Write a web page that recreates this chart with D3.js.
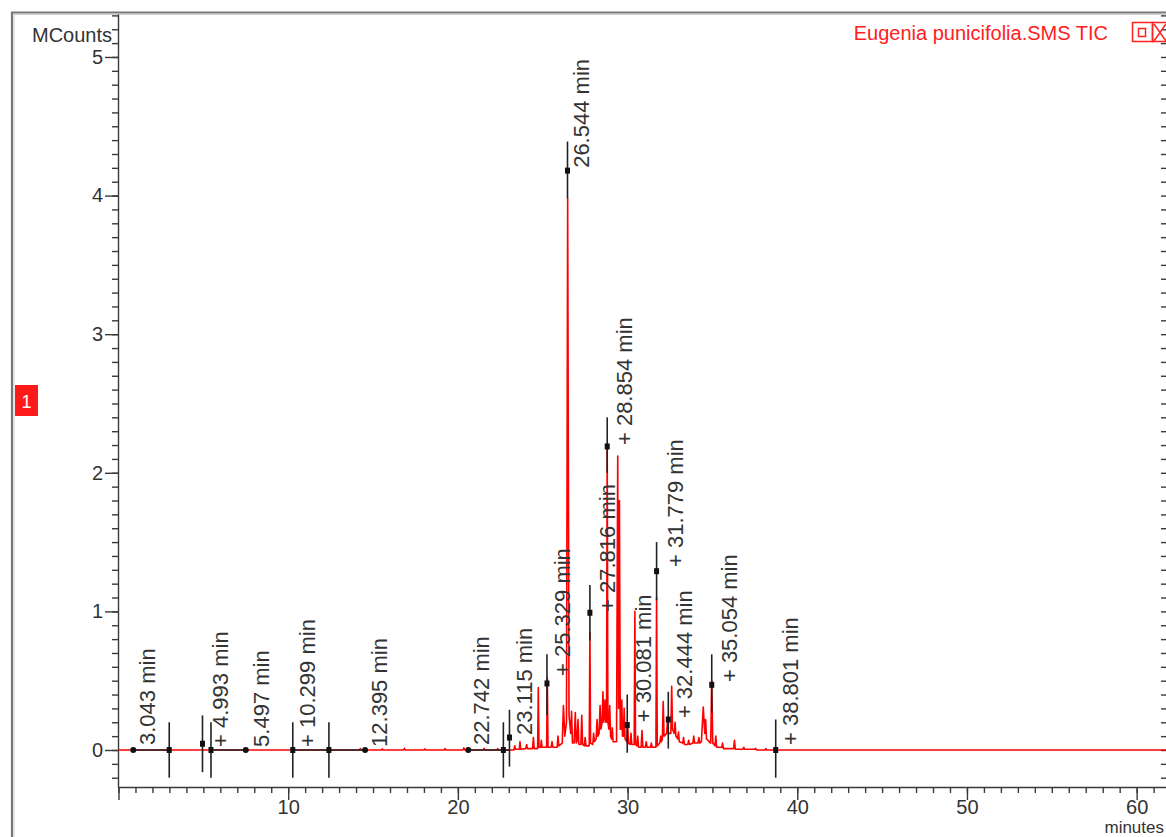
<!DOCTYPE html>
<html lang="en">
<head>
<meta charset="UTF-8">
<title>Eugenia punicifolia.SMS TIC</title>
<script src="https://d3js.org/d3.v7.min.js"></script>
<style>
  html, body { margin: 0; padding: 0; background: #fff; }
  body { font-family: Arial, "Liberation Sans", sans-serif; }
  .axis path, .axis line { stroke: #3a3a3a; stroke-width: 1.4; }
  .axis text { font-size: 20px; fill: #333; font-family: Arial, "Liberation Sans", sans-serif; }
  .peak-label { font-size: 22px; fill: #333; }
</style>
</head>
<body>
<script>
// TIC trace, [minutes, MCounts]
const trace = [
  [0, 0],
  [14.2, 0], [14.25, 0.01], [14.3, 0],
  [15.5, 0], [15.55, 0.008], [15.6, 0],
  [16.8, 0], [16.85, 0.012], [16.9, 0],
  [18.0, 0], [18.05, 0.008], [18.1, 0],
  [19.2, 0], [19.25, 0.01], [19.3, 0],
  [20.3, 0], [20.35, 0.015], [20.4, 0],
  [21.5, 0], [21.55, 0.012], [21.6, 0],
  [22.3, 0], [22.35, 0.01], [22.4, 0],
  [23.3, 0], [23.35, 0.03], [23.4, 0.005],
  [23.62, 0.005], [23.66, 0.06], [23.7, 0.005],
  [24.0, 0.01], [24.05, 0.04], [24.1, 0.01],
  [24.4, 0.01], [24.45, 0.09], [24.5, 0.01],
  [24.7, 0.01], [24.74, 0.45], [24.78, 0.02],
  [24.88, 0.02], [24.92, 0.07], [24.96, 0.02],
  [25.23, 0.02], [25.27, 0.52], [25.31, 0.02],
  [25.5, 0.02], [25.55, 0.06], [25.6, 0.02],
  [25.85, 0.02], [25.9, 0.1], [25.95, 0.03],
  [26.15, 0.05], [26.22, 0.32], [26.3, 0.1],
  [26.4, 0.2], [26.47, 3.98], [26.55, 0.25],
  [26.65, 0.12], [26.7, 0.28], [26.75, 0.05],
  [26.85, 0.05], [26.92, 0.27], [26.97, 0.05],
  [27.02, 0.06], [27.08, 0.22], [27.13, 0.04],
  [27.25, 0.04], [27.3, 0.25], [27.35, 0.04],
  [27.45, 0.03], [27.5, 0.09], [27.55, 0.03],
  [27.74, 0.03], [27.78, 0.85], [27.82, 0.05],
  [27.95, 0.04], [28.0, 0.12], [28.05, 0.06],
  [28.15, 0.08], [28.2, 0.22], [28.25, 0.1],
  [28.32, 0.12], [28.38, 0.32], [28.43, 0.15],
  [28.5, 0.2], [28.55, 0.42], [28.6, 0.2],
  [28.63, 0.25], [28.67, 0.36], [28.72, 0.2],
  [28.76, 0.2], [28.8, 2.2], [28.84, 0.2],
  [28.9, 0.15], [28.95, 0.32], [29.0, 0.1],
  [29.05, 0.08], [29.1, 0.16], [29.15, 0.06],
  [29.35, 0.06], [29.42, 2.12], [29.47, 0.3], [29.52, 1.8], [29.57, 0.15],
  [29.62, 0.15], [29.66, 0.36], [29.7, 0.1],
  [29.75, 0.1], [29.8, 0.3], [29.85, 0.08],
  [29.95, 0.06], [30.0, 0.2], [30.05, 0.05],
  [30.15, 0.04], [30.2, 0.12], [30.25, 0.04],
  [30.39, 0.04], [30.43, 1.0], [30.47, 0.04],
  [30.55, 0.03], [30.6, 0.1], [30.65, 0.02],
  [30.8, 0.02], [30.85, 0.14], [30.9, 0.02],
  [31.05, 0.02], [31.1, 0.06], [31.15, 0.02],
  [31.35, 0.02], [31.4, 0.05], [31.45, 0.02],
  [31.67, 0.02], [31.71, 1.1], [31.75, 0.03],
  [31.9, 0.05], [31.95, 0.1], [32.0, 0.06],
  [32.05, 0.08], [32.1, 0.35], [32.15, 0.1],
  [32.3, 0.12], [32.35, 0.2], [32.4, 0.12],
  [32.55, 0.12], [32.6, 0.46], [32.65, 0.15],
  [32.75, 0.12], [32.8, 0.2], [32.85, 0.1],
  [32.95, 0.08], [33.0, 0.13], [33.05, 0.06],
  [33.25, 0.05], [33.3, 0.09], [33.35, 0.04],
  [33.55, 0.04], [33.6, 0.07], [33.65, 0.04],
  [33.85, 0.05], [33.9, 0.1], [33.95, 0.05],
  [34.15, 0.05], [34.2, 0.09], [34.25, 0.05],
  [34.35, 0.06], [34.46, 0.31], [34.55, 0.12], [34.6, 0.22], [34.65, 0.08],
  [34.9, 0.05], [34.96, 0.5], [35.02, 0.05],
  [35.15, 0.03], [35.2, 0.1], [35.25, 0.02],
  [35.55, 0.02], [35.6, 0.05], [35.65, 0.01],
  [36.25, 0.01], [36.3, 0.07], [36.35, 0.005],
  [36.8, 0.005], [36.85, 0.02], [36.9, 0.005],
  [37.5, 0.005], [37.55, 0.012], [37.6, 0],
  [38.1, 0], [38.15, 0.01], [38.2, 0],
  [61.73, 0]
];

// peak end/apex marks: vertical bar with a square dot
const markMinutes = [2.99, 4.95, 5.45, 10.27, 12.4, 22.68, 23.04, 25.25, 26.46, 27.78, 28.8, 29.98, 31.71, 32.4, 34.96, 38.73];
const markTop     = [0.2, 0.25, 0.2, 0.2, 0.2, 0.2, 0.29, 0.69, 4.39, 1.19, 2.4, 0.4, 1.5, 0.42, 0.69, 0.22];
const markBottom  = [-0.2, -0.16, -0.2, -0.2, -0.2, -0.2, -0.12, 0.25, 3.98, 0.79, 2.0, -0.02, 1.08, 0.01, 0.27, -0.2];
const markDot     = [0, 0.045, 0, 0, 0, 0, 0.09, 0.48, 4.18, 0.99, 2.19, 0.18, 1.29, 0.22, 0.47, 0];

// peak start dots and black baseline pieces
const startMinutes = [0.87, 7.5, 14.53, 20.61];
const baseFrom = [0.87, 5.45, 10.27, 20.61];
const baseTo   = [2.99, 7.5, 14.53, 23.04];

// retention time labels
const labelText = ["3.043 min", "+ 4.993 min", "5.497 min", "+ 10.299 min", "12.395 min",
  "22.742 min", "23.115 min", "+ 25.329 min", "26.544 min", "+ 27.816 min", "+ 28.854 min",
  "+ 30.081 min", "+ 31.779 min", "+ 32.444 min", "+ 35.054 min", "+ 38.801 min"];
const labelMinutes = [1.71, 5.98, 8.43, 11.14, 15.35, 21.39, 23.92, 26.13, 27.25, 28.79, 29.79, 30.91, 32.79, 33.32, 36.0, 39.6];
const labelBase    = [0.036, 0.022, 0.022, 0.022, 0.022, 0.036, 0.108, 0.534, 4.2, 0.996, 2.2, 0.2, 1.32, 0.23, 0.49, 0.036];

const yTickLabels = [0, 1, 2, 3, 4, 5];
const xTickLabels = [0, 10, 20, 30, 40, 50, 60];

const W = 1166, H = 837;
const svg = d3.select("body").append("svg")
  .attr("width", W).attr("height", H)
  .style("display", "block");

const x = d3.scaleLinear().domain([0, 61.73]).range([118.5, 1166]);
const y = d3.scaleLinear().domain([-0.267, 5.31]).range([787, 14]);

// outer window frame
svg.append("path").attr("d", `M12,${H} V12.5 H${W}`)
  .attr("fill", "none").attr("stroke", "#777").attr("stroke-width", 2.2);
svg.append("path").attr("d", `M14,${H} V14.5 H${W}`)
  .attr("fill", "none").attr("stroke", "#cfcfcf").attr("stroke-width", 1);

// y axis (left)
svg.append("g").attr("class", "axis")
  .attr("transform", "translate(118,0)")
  .call(d3.axisLeft(y).tickValues(d3.range(-0.2, 5.31, 0.1)).tickSize(6).tickSizeOuter(0).tickFormat(""));
svg.append("g").attr("class", "axis")
  .attr("transform", "translate(118,0)")
  .call(d3.axisLeft(y).tickValues(yTickLabels).tickSize(13).tickSizeOuter(0).tickPadding(2)
    .tickFormat(d3.format("d")))
  .call(g => g.select(".domain").remove());

// right side ticks
svg.append("g").attr("class", "axis")
  .attr("transform", "translate(1166,0)")
  .call(d3.axisLeft(y).tickValues(d3.range(-0.2, 5.31, 0.1)).tickSize(5).tickSizeOuter(0).tickFormat(""))
  .call(g => g.select(".domain").remove());

// x axis
svg.append("g").attr("class", "axis")
  .attr("transform", "translate(0,787)")
  .call(d3.axisBottom(x).tickValues(d3.range(0, 62, 1)).tickSize(6).tickSizeOuter(0).tickFormat(""));
svg.append("g").attr("class", "axis")
  .attr("transform", "translate(0,787)")
  .call(d3.axisBottom(x).tickValues(xTickLabels).tickSize(13).tickSizeOuter(0).tickPadding(0)
    .tickFormat(d => d === 0 ? "" : d))
  .call(g => g.select(".domain").remove());

svg.append("text").attr("x", 1164).attr("y", 833)
  .attr("text-anchor", "end").attr("font-size", 17).attr("fill", "#333")
  .text("minutes");
svg.append("text").attr("x", 112).attr("y", 42)
  .attr("text-anchor", "end").attr("font-size", 20).attr("fill", "#333")
  .text("MCounts");

// chromatogram
svg.append("path")
  .datum(trace)
  .attr("fill", "none")
  .attr("stroke", "#ff0000")
  .attr("stroke-width", 1.6)
  .attr("stroke-linejoin", "round")
  .attr("d", d3.line().x(d => x(d[0])).y(d => y(d[1])));

// black baseline pieces
svg.selectAll(".base")
  .data(baseFrom)
  .enter().append("line")
  .attr("class", "base")
  .attr("x1", d => x(d))
  .attr("x2", (d, i) => x(baseTo[i]))
  .attr("y1", y(0)).attr("y2", y(0))
  .attr("stroke", "#222").attr("stroke-width", 1.4);

svg.selectAll(".start")
  .data(startMinutes)
  .enter().append("circle")
  .attr("class", "start")
  .attr("cx", d => x(d)).attr("cy", y(0)).attr("r", 3)
  .attr("fill", "#111");

// peak marks
const marks = svg.selectAll(".mark")
  .data(markMinutes)
  .enter().append("g")
  .attr("class", "mark");
marks.append("line")
  .attr("x1", d => x(d)).attr("x2", d => x(d))
  .attr("y1", (d, i) => y(markTop[i]))
  .attr("y2", (d, i) => y(markBottom[i]))
  .attr("stroke", "#222").attr("stroke-width", 1.6);
marks.append("rect")
  .attr("x", d => x(d) - 2.5)
  .attr("y", (d, i) => y(markDot[i]) - 3)
  .attr("width", 5).attr("height", 6)
  .attr("fill", "#111");

// labels
svg.selectAll(".peak-label")
  .data(labelText)
  .enter().append("text")
  .attr("class", "peak-label")
  .attr("transform", (d, i) => `translate(${x(labelMinutes[i])},${y(labelBase[i])}) rotate(-90)`)
  .attr("dy", "0.36em")
  .attr("text-anchor", "start")
  .text(d => d);

// legend
svg.append("text").attr("x", 1108).attr("y", 40)
  .attr("text-anchor", "end").attr("font-size", 20).attr("fill", "#ff2020")
  .text("Eugenia punicifolia.SMS TIC");
svg.append("rect").attr("x", 1132.5).attr("y", 22.5).attr("width", 20).attr("height", 19)
  .attr("fill", "none").attr("stroke", "#ff2020").attr("stroke-width", 1.5);
svg.append("rect").attr("x", 1138.5).attr("y", 28.5).attr("width", 7).attr("height", 8)
  .attr("fill", "none").attr("stroke", "#ff2020").attr("stroke-width", 1.5);
svg.append("rect").attr("x", 1152.5).attr("y", 22.5).attr("width", 20).attr("height", 19)
  .attr("fill", "none").attr("stroke", "#ff2020").attr("stroke-width", 1.5);
svg.append("path").attr("d", "M1154,24 L1166,41 M1166,24 L1154,41")
  .attr("stroke", "#ff2020").attr("stroke-width", 1.5);

// trace number badge
svg.append("rect").attr("x", 15).attr("y", 385).attr("width", 23).attr("height", 31)
  .attr("fill", "#ff1a1a");
svg.append("text").attr("x", 26.5).attr("y", 408)
  .attr("text-anchor", "middle").attr("font-size", 18).attr("fill", "#fff")
  .text("1");
</script>
</body>
</html>
